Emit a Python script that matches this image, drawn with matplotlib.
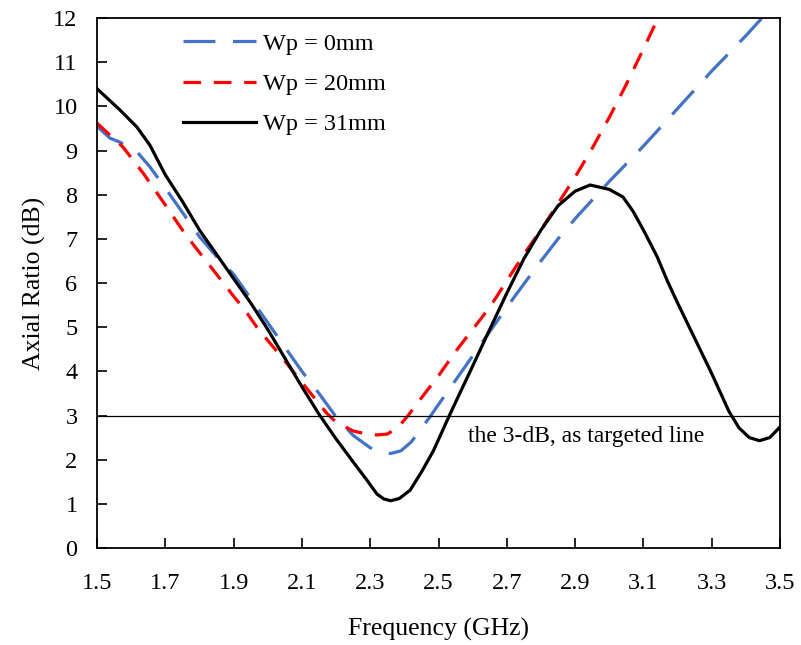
import matplotlib
matplotlib.use("Agg")
import matplotlib.pyplot as plt

# ---- data ----
freq_wp0 = [1.50, 1.538, 1.567, 1.617, 1.655, 1.70, 1.75, 1.80, 1.85, 1.90, 1.95, 2.00, 2.05,
            2.10, 2.15, 2.20, 2.25, 2.30, 2.33, 2.36, 2.39, 2.42, 2.475, 2.50, 2.55, 2.60,
            2.65, 2.70, 2.73, 2.80, 2.85, 2.905, 3.00, 3.07, 3.10, 3.20, 3.30, 3.40, 3.447]
ar_wp0 = [9.55, 9.28, 9.19, 8.97, 8.63, 8.15, 7.6, 7.05, 6.6, 6.2, 5.65, 5.1, 4.55,
          4.0, 3.5, 2.97, 2.55, 2.27, 2.17, 2.14, 2.2, 2.4, 2.97, 3.25, 3.8, 4.35,
          4.9, 5.45, 5.77, 6.5, 7.0, 7.5, 8.3, 8.86, 9.1, 9.95, 10.8, 11.6, 12.0]

freq_wp20 = [1.50, 1.576, 1.635, 1.69, 1.75, 1.787, 1.85, 1.90, 1.933, 1.968, 2.00, 2.04,
             2.10, 2.173, 2.20, 2.25, 2.29, 2.32, 2.35, 2.38, 2.408, 2.45, 2.50, 2.55, 2.60,
             2.65, 2.70, 2.75, 2.80, 2.85, 2.90, 2.95, 3.00, 3.05, 3.10, 3.143]
ar_wp20 = [9.62, 9.08, 8.49, 7.88, 7.2, 6.82, 6.2, 5.7, 5.39, 5.0, 4.7, 4.33,
           3.75, 3.05, 2.85, 2.65, 2.58, 2.56, 2.58, 2.72, 2.97, 3.4, 3.9, 4.45, 4.95,
           5.45, 6.05, 6.65, 7.2, 7.8, 8.4, 9.05, 9.75, 10.5, 11.3, 12.0]

freq_wp31 = [1.50, 1.567, 1.617, 1.655, 1.70, 1.75, 1.80, 1.85, 1.90, 1.95, 2.00, 2.05,
             2.10, 2.15, 2.20, 2.25, 2.29, 2.32, 2.34, 2.36, 2.385, 2.417, 2.45, 2.485,
             2.53, 2.55, 2.60, 2.65, 2.70, 2.75, 2.80, 2.85, 2.90, 2.944, 3.00, 3.04,
             3.07, 3.10, 3.14, 3.17, 3.20, 3.25, 3.30, 3.35, 3.38, 3.41, 3.44, 3.47, 3.50]
ar_wp31 = [10.40, 9.92, 9.53, 9.12, 8.45, 7.85, 7.2, 6.65, 6.1, 5.55, 4.95, 4.3,
           3.65, 3.03, 2.47, 1.95, 1.54, 1.22, 1.11, 1.07, 1.12, 1.31, 1.72, 2.2,
           2.97, 3.3, 4.12, 4.95, 5.77, 6.55, 7.2, 7.75, 8.08, 8.22, 8.12, 7.95,
           7.62, 7.2, 6.6, 6.05, 5.55, 4.75, 3.95, 3.1, 2.72, 2.5, 2.43, 2.5, 2.74]

labels = ["Wp = 0mm", "Wp = 20mm", "Wp = 31mm"]
target_db = 3
x_ticks = [1.5, 1.7, 1.9, 2.1, 2.3, 2.5, 2.7, 2.9, 3.1, 3.3, 3.5]
y_ticks = list(range(0, 13))

plt.rcParams['font.family'] = ['Liberation Serif', 'DejaVu Serif']

fig = plt.figure(figsize=(8.01, 6.45), dpi=100)
ax = fig.add_axes([0.1211, 0.1504, 0.8527, 0.8216])

ax.plot(freq_wp0, ar_wp0, color='#4472C4', lw=2.3, ls=(0, (10, 5.5)),
        dash_capstyle='butt', label=labels[0])
ax.plot(freq_wp20, ar_wp20, color='#FF0000', lw=2.3, ls=(0, (5.5, 4)),
        dash_capstyle='butt', label=labels[1])
ax.plot(freq_wp31, ar_wp31, color='black', lw=2.3, label=labels[2])

ax.axhline(target_db, color='black', lw=0.9)
ax.text(2.585, 2.53, "the 3-dB, as targeted line", fontsize=17, va='center', ha='left')

ax.set_xlim(1.5, 3.5)
ax.set_ylim(0, 12)
ax.set_xticks(x_ticks)
ax.set_xticklabels([f"{v:.1f}" for v in x_ticks])
ax.set_yticks(y_ticks)
ax.tick_params(direction='in', length=7, width=1.2, labelsize=17.5)
ax.tick_params(axis='y', pad=14)
ax.tick_params(axis='x', pad=18)
for s in ax.spines.values():
    s.set_linewidth(1.3)

ax.set_xlabel("Frequency (GHz)", fontsize=18.5, labelpad=17)
ax.set_ylabel("Axial Ratio (dB)", fontsize=18.5, labelpad=5)

ax.legend(loc='upper left', bbox_to_anchor=(0.126, 0.972), frameon=False,
          fontsize=17.5, handlelength=3.0, handletextpad=0.3, labelspacing=0.75,
          borderpad=0, borderaxespad=0)

fig.savefig("out.png", dpi=100)
